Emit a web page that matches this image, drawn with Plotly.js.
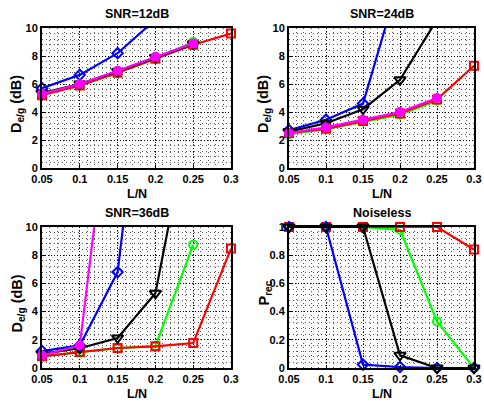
<!DOCTYPE html>
<html><head><meta charset="utf-8">
<script src="https://cdn.plot.ly/plotly-3.0.1.min.js"></script>
<style>html,body{margin:0;padding:0;background:#fff}#c{width:484px;height:402px}</style>
</head><body><div id="c"></div>
<script>
const LN = [0.05, 0.1, 0.15, 0.2, 0.25, 0.3];
const xTicks = [0.05, 0.1, 0.15, 0.2, 0.25, 0.3];
const xTickText = ['0.05', '0.1', '0.15', '0.2', '0.25', '0.3'];
const titles = ['SNR=12dB', 'SNR=24dB', 'SNR=36dB', 'Noiseless'];

// SNR = 12 dB
const s12_green = [5.3, 5.9, 6.8, 7.8, 9.0];
const s12_red = [5.2, 5.9, 6.8, 7.8, 8.8, 9.6];
const s12_blue = [5.7, 6.65, 8.2, 10.6];
const s12_black = [5.35, 6.0, 6.9, 7.9, 8.85];
const s12_magenta = [5.3, 6.0, 6.95, 7.95, 8.9];
// SNR = 24 dB
const s24_green = [2.4, 2.8, 3.3, 3.8, 4.8];
const s24_red = [2.5, 2.8, 3.35, 3.9, 4.9, 7.3];
const s24_blue = [2.7, 3.45, 4.6, 13.6];
const s24_black = [2.6, 3.2, 4.2, 6.3, 10.6];
const s24_magenta = [2.5, 2.9, 3.45, 4.0, 5.0];
// SNR = 36 dB
const s36_green = [0.85, 1.15, 1.4, 1.55, 8.75];
const s36_red = [0.83, 1.13, 1.42, 1.54, 1.77, 8.47];
const s36_blue = [1.2, 1.6, 6.8, 29];
const s36_black = [1.0, 1.4, 2.13, 5.3, 19];
const s36_magenta = [0.9, 1.6, 23.7];
// Noiseless
const nl_green = [1, 1, 1, 0.98, 0.33, 0];
const nl_red = [1, 1, 1, 1, 1, 0.84];
const nl_blue = [1, 1, 0.024, 0.007, 0, 0];
const nl_black = [1, 1, 1, 0.09, 0, 0];

const styles = {
  green:   {color: '#00ff00', symbol: 'circle-open', size: 8},
  red:     {color: '#ff0000', symbol: 'square-open', size: 8},
  blue:    {color: '#0000ff', symbol: 'diamond-open', size: 8},
  black:   {color: '#000000', symbol: 'triangle-down-open', size: 10},
  magenta: {color: '#ff00ff', symbol: 'circle', size: 8}
};

const panels = [
  {green: s12_green, red: s12_red, blue: s12_blue, black: s12_black, magenta: s12_magenta},
  {green: s24_green, red: s24_red, blue: s24_blue, black: s24_black, magenta: s24_magenta},
  {green: s36_green, red: s36_red, blue: s36_blue, black: s36_black, magenta: s36_magenta},
  {green: nl_green, red: nl_red, blue: nl_blue, black: nl_black}
];
const order = ['green', 'red', 'blue', 'black', 'magenta'];

const W = 484, H = 402;
const boxes = [
  {x0: 42, x1: 231, y0: 28, y1: 168},
  {x0: 289, x1: 474, y0: 28, y1: 168},
  {x0: 42, x1: 231, y0: 227, y1: 368},
  {x0: 289, x1: 474, y0: 227, y1: 368}
];

const traces = [];
panels.forEach((p, i) => {
  const ax = i === 0 ? '' : String(i + 1);
  order.forEach(k => {
    if (!p[k]) return;
    const st = styles[k];
    traces.push({
      x: LN.slice(0, p[k].length), y: p[k],
      xaxis: 'x' + ax, yaxis: 'y' + ax,
      mode: 'lines+markers', type: 'scatter', cliponaxis: false,
      line: {color: st.color, width: 2.2},
      marker: {symbol: st.symbol, size: st.size, color: st.color,
               line: {color: st.color, width: 2}},
      showlegend: false, hoverinfo: 'skip'
    });
  });
});

const layout = {
  width: W, height: H, margin: {l: 0, r: 0, t: 0, b: 0},
  paper_bgcolor: '#fff', plot_bgcolor: '#fff',
  font: {family: 'Liberation Sans, Arial, sans-serif', size: 11, color: '#000', weight: 'bold'},
  showlegend: false, annotations: []
};

boxes.forEach((b, i) => {
  const ax = i === 0 ? '' : String(i + 1);
  const isP = i === 3;
  layout['xaxis' + ax] = {
    domain: [b.x0 / W, b.x1 / W], anchor: 'y' + ax, range: [0.05, 0.3],
    tickvals: xTicks, ticktext: xTickText,
    showline: true, mirror: true, linewidth: 2, linecolor: '#000',
    ticks: 'inside', ticklen: 3, tickwidth: 1, tickcolor: '#000',
    showgrid: true, gridcolor: '#000', gridwidth: 1, griddash: '1px,2px',
    minor: {dtick: 0.01, tick0: 0.05, showgrid: true, gridcolor: '#555', gridwidth: 1, griddash: '1px,3px', ticks: ''},
    zeroline: false, tickfont: {size: 11, weight: 'bold'}
  };
  layout['yaxis' + ax] = {
    domain: [1 - b.y1 / H, 1 - b.y0 / H], anchor: 'x' + ax,
    range: isP ? [0, 1] : [0, 10], dtick: isP ? 0.2 : 2, tick0: 0,
    showline: true, mirror: true, linewidth: 2, linecolor: '#000',
    ticks: 'inside', ticklen: 3, tickwidth: 1, tickcolor: '#000',
    showgrid: true, gridcolor: '#000', gridwidth: 1, griddash: '1px,2px',
    minor: {dtick: isP ? 0.04 : 0.4, showgrid: true, gridcolor: '#555', gridwidth: 1, griddash: '1px,3px', ticks: ''},
    zeroline: false, tickfont: {size: 11, weight: 'bold'}
  };
  const cx = (b.x0 + b.x1) / 2 / W;
  const cyPix = (b.y0 + b.y1) / 2 + (isP ? -4 : 6);
  layout.annotations.push({
    text: titles[i], xref: 'paper', yref: 'paper', x: cx, y: 1 - (b.y0 - 14) / H,
    xanchor: 'center', yanchor: 'middle', showarrow: false,
    font: {size: 12.5, weight: 'bold'}
  });
  layout.annotations.push({
    text: 'L/N', xref: 'paper', yref: 'paper', x: cx, y: 1 - (b.y1 + 26) / H,
    xanchor: 'center', yanchor: 'middle', showarrow: false,
    font: {size: 12.5, weight: 'bold'}
  });
  layout.annotations.push({
    text: isP ? 'P<sub>rec</sub>' : 'D<sub>e/g</sub>&nbsp;(dB)',
    xref: 'paper', yref: 'paper',
    x: (b.x0 - 25) / W, y: 1 - cyPix / H, textangle: -90,
    xanchor: 'center', yanchor: 'middle', showarrow: false,
    font: {size: 14.5, weight: 'bold'}
  });
});

Plotly.newPlot('c', traces, layout, {staticPlot: true, displayModeBar: false});
</script></body></html>
